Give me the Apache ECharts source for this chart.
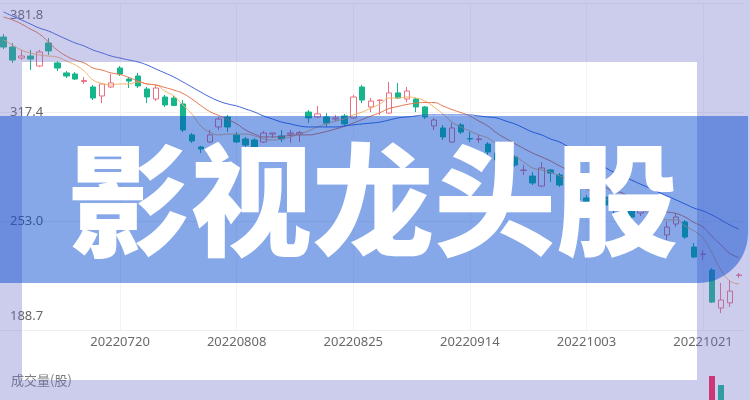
<!DOCTYPE html>
<html><head><meta charset="utf-8">
<script src="https://cdn.jsdelivr.net/npm/echarts@6.0.0/dist/echarts.min.js"></script>
<style>html,body{margin:0;padding:0;background:#fff}#c{width:750px;height:400px}</style>
</head><body><div id="c"></div>
<script>
const dates = ['20220630','20220704','20220705','20220706','20220707','20220708','20220711','20220712','20220713','20220714',
'20220715','20220718','20220719','20220720','20220721','20220722','20220725','20220726','20220727','20220728',
'20220729','20220801','20220802','20220803','20220804','20220805','20220808','20220809','20220810','20220811',
'20220812','20220815','20220816','20220817','20220818','20220819','20220822','20220823','20220824','20220825',
'20220826','20220829','20220830','20220831','20220901','20220902','20220905','20220906','20220907','20220908',
'20220909','20220913','20220914','20220915','20220916','20220919','20220920','20220921','20220922','20220923',
'20220926','20220927','20220928','20220929','20220930','20221003','20221005','20221006','20221007','20221010',
'20221011','20221012','20221013','20221014','20221017','20221018','20221019','20221020','20221021','20221024',
'20221025','20221026','20221027'];
// [open, close, low, high]
const ohlc = [
[361.7,355.8,354.6,363.5],[355.8,348.1,346.4,358.2],[349.3,350.5,348.1,354.1],[350.5,348.7,342.2,354.1],[344.6,352.9,344.0,354.1],
[358.2,353.5,351.1,361.1],[346.4,343.4,341.6,347.5],[340.5,338.7,337.5,341.6],[339.9,336.9,336.3,341.1],[335.4,336.0,334.0,338.1],
[332.2,325.7,324.5,333.4],[326.9,334.0,322.7,334.6],[332.2,334.6,331.6,339.9],[343.4,339.9,338.7,344.6],[336.9,335.7,331.6,338.1],
[338.7,332.8,331.6,340.5],[331.0,326.3,322.7,332.2],[325.1,331.6,323.9,333.4],[326.3,321.6,320.4,327.5],[325.7,321.3,320.9,326.9],
[322.2,306.8,305.6,324.5],[303.9,300.3,299.1,305.0],[296.8,295.6,293.2,297.4],[299.7,303.9,299.1,306.8],[308.6,313.3,306.8,314.5],
[314.5,308.6,305.6,315.7],[303.9,299.7,299.1,305.6],[301.5,297.9,296.8,302.7],[300.9,296.8,295.6,302.1],[299.7,305.0,299.1,306.2],
[304.4,305.0,302.1,305.3],[303.3,301.5,299.7,306.8],[304.4,305.0,299.1,306.8],[304.4,305.3,299.7,306.2],[317.4,313.9,310.9,318.6],
[314.5,316.3,313.9,321.0],[314.5,310.9,308.6,316.8],[313.3,313.9,312.1,315.7],[315.1,310.4,308.6,316.3],[313.9,326.3,313.3,327.5],
[332.2,324.5,322.7,333.4],[320.4,323.9,317.4,325.7],[324.2,324.5,315.7,324.8],[316.8,328.7,316.5,335.2],[328.7,325.7,325.1,334.6],
[325.1,329.8,323.3,332.2],[325.1,320.4,317.4,325.7],[320.4,314.5,313.3,321.0],[309.2,312.7,306.8,313.9],[308.0,302.7,300.9,309.8],
[299.7,308.0,299.1,310.9],[309.8,305.6,304.4,310.9],[301.8,301.5,299.7,305.6],[301.2,301.5,299.1,303.9],[298.5,293.8,292.0,299.7],
[293.2,289.1,287.9,294.4],[291.5,287.9,286.7,292.6],[290.9,286.1,285.0,292.0],[282.9,283.2,280.2,286.1],[279.6,275.5,274.3,282.0],
[273.7,284.4,273.2,287.9],[283.2,281.4,276.1,283.8],[280.2,274.3,273.2,281.4],[271.4,274.9,270.2,276.7],[274.3,265.5,263.7,275.5],
[266.7,263.7,261.9,268.4],[262.5,266.7,261.3,267.8],[267.2,262.5,261.3,268.4],[263.1,259.6,257.8,264.3],[259.6,263.1,258.4,264.9],
[261.9,255.4,253.7,264.3],[257.8,261.9,256.0,263.1],[253.7,246.6,245.4,254.8],[254.8,254.3,248.9,255.4],[244.8,249.5,241.9,252.5],
[251.3,255.4,249.5,257.8],[252.5,243.6,242.4,253.7],[237.7,231.8,231.2,240.1],[233.3,233.6,230.0,235.9],[224.1,205.2,204.6,225.3],
[201.7,206.4,198.7,216.5],[204.7,211.7,202.3,218.2],[220.9,221.2,219.4,222.4]];
const ma5 = [360.0,357.0,354.0,352.3,351.1,350.5,349.9,347.5,345.2,341.6,336.3,334.3,333.4,334.0,334.0,335.2,334.0,333.4,329.8,326.9,
321.6,316.3,309.2,305.6,303.9,304.4,304.4,304.4,303.3,301.5,300.9,301.5,302.7,304.4,306.2,308.6,310.4,312.1,313.3,315.7,
317.4,319.8,322.2,325.7,325.7,326.3,325.7,323.9,320.4,316.3,311.5,308.6,306.2,303.9,302.1,298.5,295.0,291.5,287.9,284.4,
283.2,282.0,279.6,277.9,276.1,272.0,269.0,266.7,263.7,263.1,261.3,260.7,257.2,256.0,253.7,253.7,250.1,247.2,243.0,234.2,
224.1,217.6,215.9];
const ma10 = [373.5,371.8,369.4,366.4,363.5,358.8,354.0,350.5,348.1,346.4,343.4,342.2,340.5,339.6,337.8,335.7,334.0,333.4,331.9,330.4,
328.4,325.1,321.3,317.7,315.4,313.0,310.4,306.8,304.4,302.7,302.7,303.0,303.6,303.9,303.9,304.7,305.9,307.4,308.9,310.9,
313.0,315.1,317.1,319.5,320.7,321.9,322.7,323.0,323.0,321.0,318.9,317.1,315.1,312.1,309.2,305.0,301.8,298.8,295.9,293.2,
290.9,288.5,285.6,282.9,280.2,277.6,275.5,273.2,270.8,269.6,266.7,264.9,261.9,259.9,258.4,257.5,255.4,252.2,249.5,243.9,
238.9,233.9,231.5];
const ma20 = [376.5,374.1,371.8,369.4,367.0,365.3,362.9,360.5,358.2,356.4,354.0,352.3,350.5,349.3,348.1,347.0,345.2,342.8,340.5,338.1,
335.2,332.2,329.2,326.3,323.9,322.2,321.0,319.2,317.4,315.1,313.3,311.5,310.4,309.2,308.6,308.6,308.6,308.6,309.2,309.8,
310.4,310.9,311.5,312.7,313.9,314.5,315.1,315.7,315.7,315.7,315.7,315.7,315.7,315.1,314.5,313.9,312.1,310.4,308.0,305.6,
303.9,301.5,299.7,296.8,293.8,290.9,287.9,284.9,282.0,279.6,277.3,274.9,272.6,270.2,267.8,265.5,263.1,260.7,259.0,256.6,
253.7,250.7,248.3];
// volume, millions of shares
const volume = [22.1,19.8,18.4,17.6,21.3,16.9,24.5,20.2,18.8,17.3,26.4,23.9,19.5,21.7,16.4,18.9,17.2,19.6,20.8,18.3,
30.6,25.4,22.9,24.7,28.3,19.9,17.8,15.6,16.2,18.1,14.9,13.7,14.5,15.3,36.2,24.1,17.5,15.8,16.6,29.4,
27.1,18.2,15.9,33.5,21.6,19.4,16.8,20.3,19.1,22.5,25.8,18.7,17.4,14.6,21.9,24.3,19.8,20.6,23.4,22.7,
27.9,18.6,21.3,20.1,24.8,19.3,17.6,18.9,20.4,17.8,24.6,20.7,31.5,21.8,26.3,22.1,25.7,33.2,35.4,96.0,
87.0,52.3,38.6];
const yTicks = [188.7, 253.0, 317.4, 381.8];
const bannerText = '影视龙头股';
const volTitle = '成交量(股)';

const labelEvery = i => i > 0 && i % 13 === 0;
const chart = echarts.init(document.getElementById('c'), null, {renderer: 'canvas'});
const volData = volume.map((v, i) => ({
  value: v,
  itemStyle: {color: ohlc[i][1] < ohlc[i][0] ? '#ff1a4a' : '#16b58c'}
}));
chart.setOption({
  animation: false,
  backgroundColor: '#ffffff',
  title: {text: volTitle, left: 6, top: 369,
    textStyle: {fontSize: 13, fontWeight: 'normal', color: '#7a7a7a', fontFamily: 'Noto Sans CJK SC'}},
  grid: [
    {left: -1, top: 3, width: 744.4, height: 327, containLabel: false, outerBoundsMode: 'none'},
    {left: -1, top: 372, width: 744.4, height: 100, containLabel: false, outerBoundsMode: 'none'}
  ],
  xAxis: [
    {type: 'category', data: dates, boundaryGap: true, gridIndex: 0,
      axisLine: {show: false}, axisTick: {show: false, alignWithLabel: true, interval: labelEvery},
      axisLabel: {interval: labelEvery, color: '#6a6a6a', fontSize: 13, margin: 6, fontFamily: 'Noto Sans'},
      splitLine: {show: true, interval: labelEvery, alignWithLabel: true, lineStyle: {color: '#f3f3f3', width: 1}}},
    {type: 'category', data: dates, boundaryGap: true, gridIndex: 1,
      axisLine: {show: false}, axisTick: {show: false}, axisLabel: {show: false}, splitLine: {show: false}}
  ],
  yAxis: [
    {type: 'value', gridIndex: 0, min: yTicks[0], max: yTicks[3],
      axisLine: {show: false}, axisTick: {show: false, customValues: yTicks},
      splitLine: {show: true, lineStyle: {color: '#f0f0f0', width: 1}},
      axisLabel: {inside: true, margin: 11, color: '#666', fontSize: 13, fontFamily: 'Noto Sans',
        customValues: yTicks,
        formatter: v => {
          const s = v.toFixed(1);
          if (Math.abs(v - yTicks[3]) < 0.01) return '{t|' + s + '}';
          if (Math.abs(v - yTicks[0]) < 0.01) return '{b|' + s + '}';
          return s;
        },
        rich: {
          t: {padding: [24, 0, 0, 0], fontSize: 13, color: '#666', fontFamily: 'Noto Sans'},
          b: {padding: [0, 0, 28, 0], fontSize: 13, color: '#666', fontFamily: 'Noto Sans'}
        }}},
    {type: 'value', gridIndex: 1, min: 0, max: 100,
      axisLine: {show: false}, axisTick: {show: false}, axisLabel: {show: false}, splitLine: {show: false}}
  ],
  series: [
    {type: 'candlestick', name: 'K', data: ohlc, xAxisIndex: 0, yAxisIndex: 0, barWidth: 6,
      itemStyle: {color: '#ffffff', color0: '#16b58c', borderColor: '#ea6f80', borderColor0: '#16b58c', borderWidth: 1}},
    {type: 'line', name: 'MA5', data: ma5, showSymbol: false, symbol: 'none', smooth: true,
      lineStyle: {color: '#f5b466', width: 1}},
    {type: 'line', name: 'MA10', data: ma10, showSymbol: false, symbol: 'none', smooth: true,
      lineStyle: {color: '#e8744e', width: 1}},
    {type: 'line', name: 'MA20', data: ma20, showSymbol: false, symbol: 'none', smooth: true,
      lineStyle: {color: '#3f63d6', width: 1}},
    {type: 'bar', name: 'VOL', data: volData, xAxisIndex: 1, yAxisIndex: 1, barWidth: 6}
  ],
  graphic: [
    {type: 'rect', z: 100, silent: true, shape: {x: 0, y: 0, width: 750, height: 62}, style: {fill: 'rgba(110,110,200,0.35)'}},
    {type: 'rect', z: 100, silent: true, shape: {x: 0, y: 380, width: 750, height: 20}, style: {fill: 'rgba(110,110,200,0.35)'}},
    {type: 'rect', z: 100, silent: true, shape: {x: 0, y: 62, width: 22, height: 318}, style: {fill: 'rgba(110,110,200,0.35)'}},
    {type: 'rect', z: 100, silent: true, shape: {x: 697, y: 62, width: 53, height: 318}, style: {fill: 'rgba(110,110,200,0.35)'}},
    {type: 'rect', z: 101, silent: true, shape: {x: -10, y: 116, width: 758, height: 167, r: [0, 0, 50, 0]}, style: {fill: 'rgba(0,70,206,0.47)'}},
    {type: 'text', z: 102, silent: true, x: 373, y: 200,
      style: {text: bannerText, fill: '#ffffff', fontSize: 122, fontWeight: 900, fontFamily: 'Noto Sans CJK SC',
        align: 'center', verticalAlign: 'middle'}}
  ]
});
</script>
</body></html>
